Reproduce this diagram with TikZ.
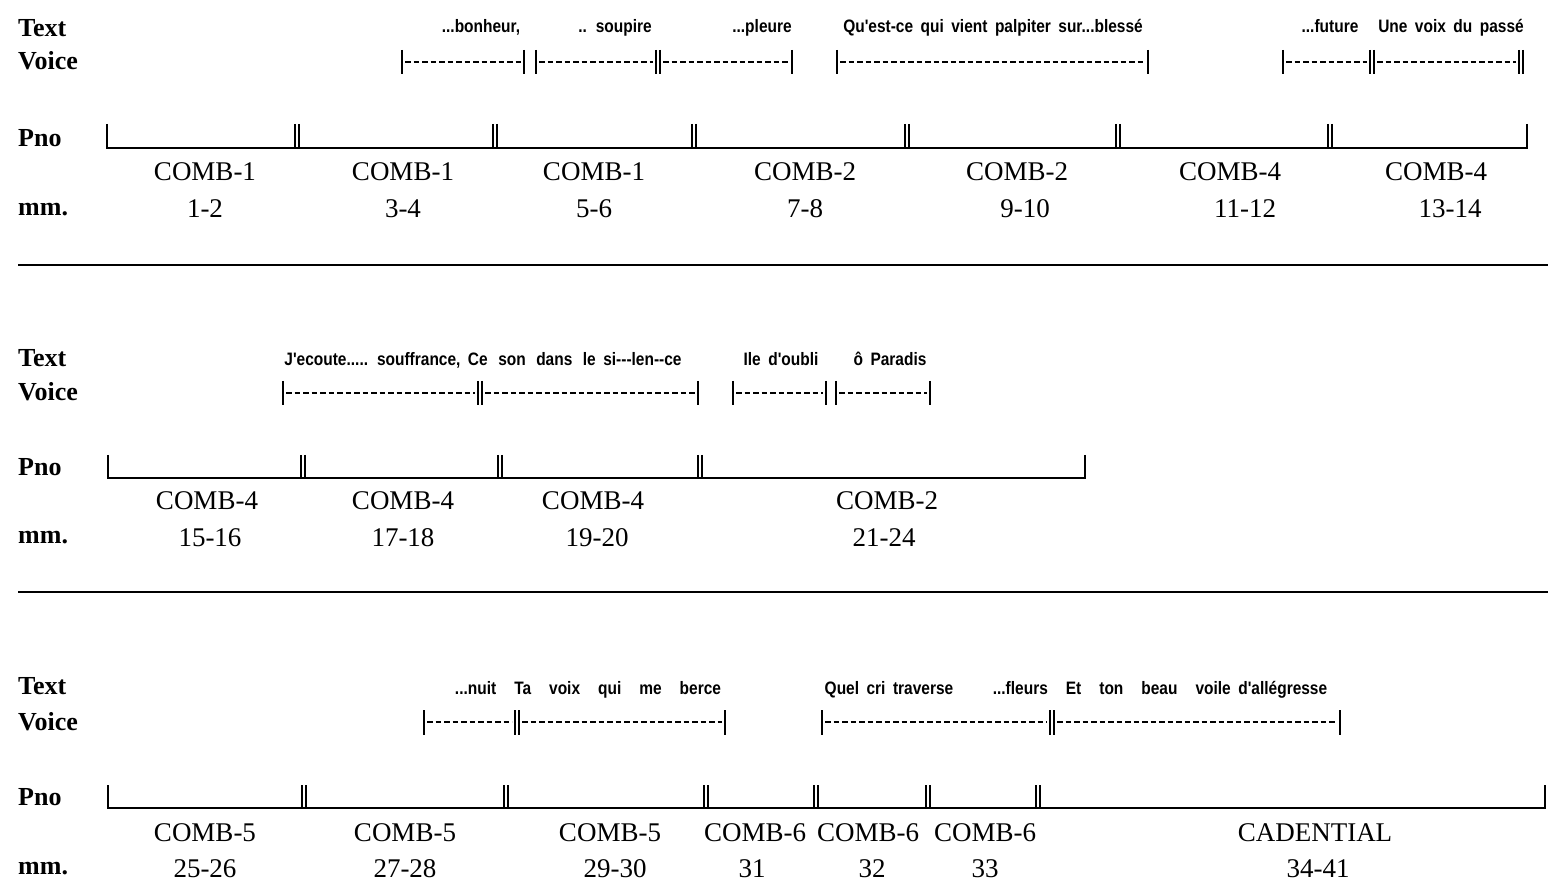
\documentclass[tikz,border=0pt]{standalone}
\usepackage{fontspec}
\setmainfont{Liberation Serif}
\newfontfamily\lyr[FakeStretch=0.86]{Liberation Sans}
\newcommand\lyrfont{\lyr\bfseries\fontsize{18}{20}\selectfont\spaceskip 7.5pt\relax}
\newcommand\wgap{\hspace{10.5pt} }
\begin{document}
\begin{tikzpicture}[x=1pt,y=-1pt,
  lab/.style={anchor=west,inner sep=0pt,font=\fontsize{26}{28}\selectfont\bfseries},
  comb/.style={inner sep=0pt,font=\fontsize{27}{30}\selectfont},
  lyric/.style={inner sep=0pt,anchor=base,font=\lyrfont},
  bar/.style={line width=2pt},
  pno/.style={line width=2pt},
  vdash/.style={line width=2pt,dash pattern=on 5.5pt off 3pt},
  sep/.style={line width=2.5pt}]
\useasboundingbox (0,0) rectangle (1548,882);
\newcommand\sbar[3]{\draw[bar] (#1,#2) -- (#1,#3);}
\newcommand\dbar[3]{\draw[bar] (#1-2,#2) -- (#1-2,#3); \draw[bar] (#1+2,#2) -- (#1+2,#3);}
\newcommand\vseg[4]{\draw[vdash] (#1+3,#3) -- (#2-3,#3);}
% ---------------- Section 1 ----------------
\node[lab] (t1) at (18,28) {Text};
\node[lab] (v1) at (18,61) {Voice};
\node[lab] (p1) at (18,138) {Pno};
\node[lab] (m1) at (18,210) {mm.};
% lyrics
\node[lyric] (l11) at (481,33) {...bonheur,};
\node[lyric] (l12) at (615,33) {.. soupire};
\node[lyric] (l13) at (762,33) {...pleure};
\node[lyric] (l14) at (993,33) {Qu'est-ce qui vient palpiter sur...blessé};
\node[lyric] (l15) at (1330,33) {...future};
\node[lyric] (l16) at (1451,33) {Une voix du passé};
% voice bars
\sbar{402}{50}{74}\vseg{402}{524}{62}{}\sbar{524}{50}{74}
\sbar{536}{50}{74}\vseg{536}{656}{62}{}\dbar{658}{50}{74}\vseg{660}{792}{62}{}\sbar{792}{50}{74}
\sbar{837}{50}{74}\vseg{837}{1148}{62}{}\sbar{1148}{50}{74}
\sbar{1283}{50}{74}\vseg{1283}{1370}{62}{}\dbar{1372}{50}{74}\vseg{1374}{1519}{62}{}\dbar{1521}{50}{74}
% piano
\draw[pno] (107,148) -- (1527,148);
\sbar{107}{124}{149}
\foreach \x in {297,495,694,907,1118,1330} {\dbar{\x}{124}{149}}
\sbar{1527}{124}{149}
% combs
\node[comb] (c11) at (205,172) {COMB-1};
\node[comb] (c12) at (403,172) {COMB-1};
\node[comb] (c13) at (594,172) {COMB-1};
\node[comb] (c14) at (805,172) {COMB-2};
\node[comb] (c15) at (1017,172) {COMB-2};
\node[comb] (c16) at (1230,172) {COMB-4};
\node[comb] (c17) at (1436,172) {COMB-4};
\node[comb] (n11) at (205,209) {1-2};
\node[comb] (n12) at (403,209) {3-4};
\node[comb] (n13) at (594,209) {5-6};
\node[comb] (n14) at (805,209) {7-8};
\node[comb] (n15) at (1025,209) {9-10};
\node[comb] (n16) at (1245,209) {11-12};
\node[comb] (n17) at (1450,209) {13-14};
\draw[sep] (18,265) -- (1548,265);
% ---------------- Section 2 ----------------
\node[lab] (t2) at (18,358) {Text};
\node[lab] (v2) at (18,392) {Voice};
\node[lab] (p2) at (18,467) {Pno};
\node[lab] (m2) at (18,538) {mm.};
\node[lyric] (l21) at (483,366) {J'ecoute..... souffrance, Ce\hspace{3pt} son\hspace{3pt} dans\hspace{3pt} le si---len--ce};
\node[lyric] (l22) at (781,366) {Ile d'oubli};
\node[lyric] (l23) at (890,366) {ô Paradis};
\sbar{283}{381}{405}\vseg{283}{478}{393}{}\dbar{480}{381}{405}\vseg{482}{698}{393}{}\sbar{698}{381}{405}
\sbar{733}{381}{405}\vseg{733}{826}{393}{}\sbar{826}{381}{405}
\sbar{836}{381}{405}\vseg{836}{930}{393}{}\sbar{930}{381}{405}
\draw[pno] (108,478) -- (1085,478);
\sbar{108}{455}{479}
\foreach \x in {303,500,700} {\dbar{\x}{455}{479}}
\sbar{1085}{455}{479}
\node[comb] (c21) at (207,501) {COMB-4};
\node[comb] (c22) at (403,501) {COMB-4};
\node[comb] (c23) at (593,501) {COMB-4};
\node[comb] (c24) at (887,501) {COMB-2};
\node[comb] (n21) at (210,538) {15-16};
\node[comb] (n22) at (403,538) {17-18};
\node[comb] (n23) at (597,538) {19-20};
\node[comb] (n24) at (884,538) {21-24};
\draw[sep] (18,592) -- (1548,592);
% ---------------- Section 3 ----------------
\node[lab] (t3) at (18,686) {Text};
\node[lab] (v3) at (18,722) {Voice};
\node[lab] (p3) at (18,797) {Pno};
\node[lab] (m3) at (18,869) {mm.};
\node[lyric] (l31) at (588,694) {...nuit\wgap Ta\wgap voix\wgap qui\wgap me\wgap berce};
\node[lyric] (l32) at (889,694) {Quel cri traverse};
\node[lyric] (l33) at (1160,694) {...fleurs\wgap Et\wgap ton\wgap beau\wgap voile d'allégresse};
\sbar{424}{710}{735}\vseg{424}{515}{722}{}\dbar{517}{710}{735}\vseg{519}{725}{722}{}\sbar{725}{710}{735}
\sbar{822}{710}{735}\vseg{822}{1050}{722}{}\dbar{1052}{710}{735}\vseg{1054}{1340}{722}{}\sbar{1340}{710}{735}
\draw[pno] (108,808) -- (1545,808);
\sbar{108}{785}{809}
\foreach \x in {304,506,706,816,928,1038} {\dbar{\x}{785}{809}}
\sbar{1545}{785}{809}
\node[comb] (c31) at (205,833) {COMB-5};
\node[comb] (c32) at (405,833) {COMB-5};
\node[comb] (c33) at (610,833) {COMB-5};
\node[comb] (c34) at (755,833) {COMB-6};
\node[comb] (c35) at (868,833) {COMB-6};
\node[comb] (c36) at (985,833) {COMB-6};
\node[comb] (c37) at (1315,833) {CADENTIAL};
\node[comb] (n31) at (205,869) {25-26};
\node[comb] (n32) at (405,869) {27-28};
\node[comb] (n33) at (615,869) {29-30};
\node[comb] (n34) at (752,869) {31};
\node[comb] (n35) at (872,869) {32};
\node[comb] (n36) at (985,869) {33};
\node[comb] (n37) at (1318,869) {34-41};
\end{tikzpicture}
\end{document}
